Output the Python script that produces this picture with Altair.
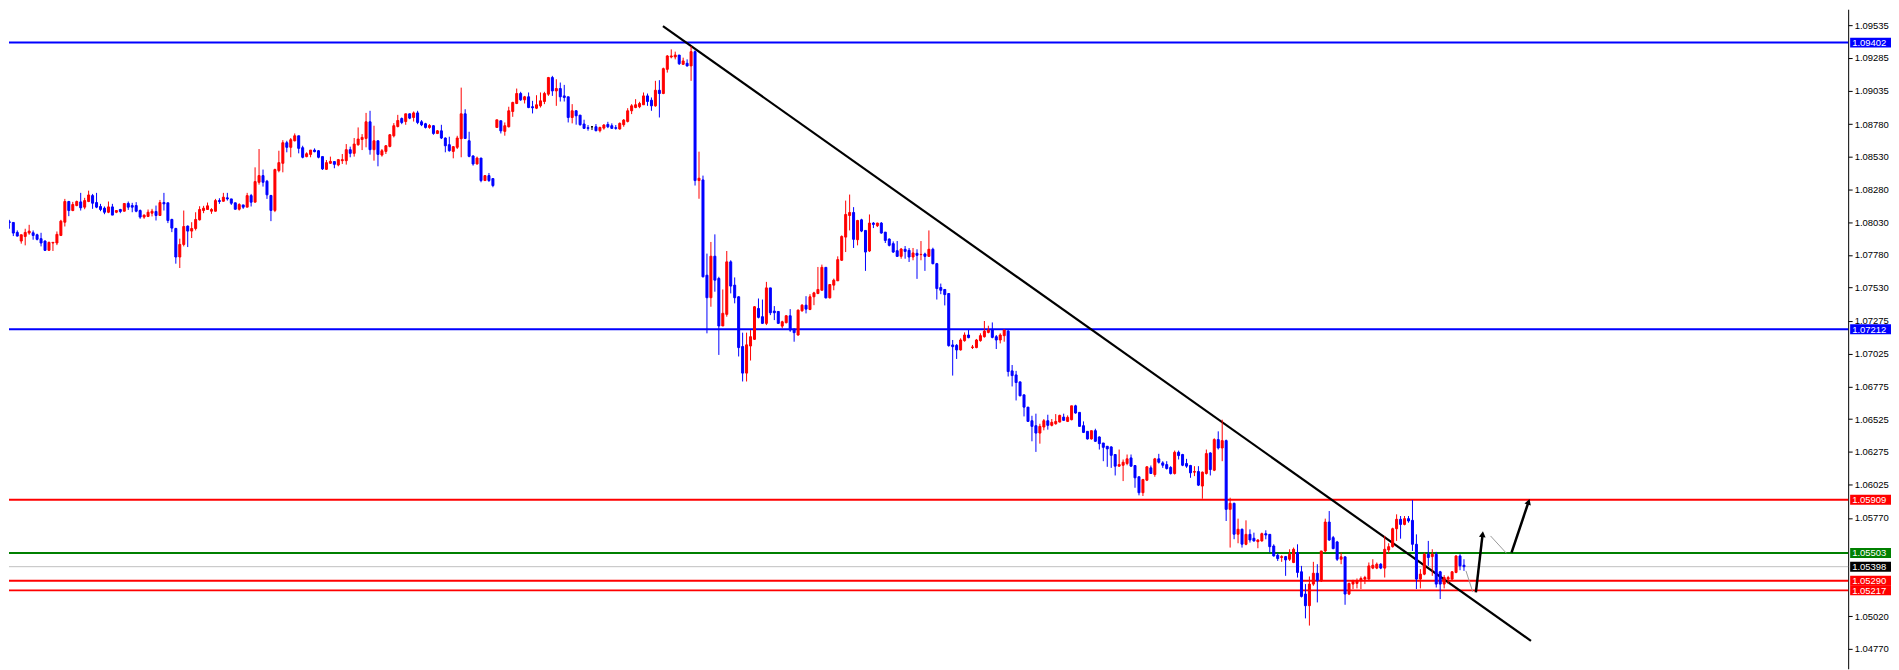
import altair as alt
import pandas as pd

# ---- candle data (prices in points, i.e. price * 100000) ----
OPEN = [
108038,108033,108028,107952,107886,107921,107947,107949,107934,107904,
107886,107815,107871,107871,107929,108030,108188,108119,108157,108185,
108145,108188,108233,108180,108150,108137,108106,108147,108106,108127,
108114,108173,108157,108157,108119,108069,108074,108099,108112,108081,
108180,108178,108051,107982,107764,107860,108000,107962,107982,108048,
108119,108127,108114,108114,108195,108190,108216,108208,108178,108129,
108162,108145,108233,
108183,108335,108386,108343,108234,108120,108424,108480,108637,108602,
108652,108690,108599,108531,108548,108581,108576,108531,108434,108480,
108493,108467,108500,108500,108584,108556,108622,108662,108670,108797,
108584,108652,108543,108571,108609,108690,108761,108822,108799,108858,
108830,108865,108797,108782,108754,108767,108708,108728,108673,108622,
108571,108602,108668,108858,108652,108536,108475,108520,108348,108386,
108363,108754,108805,
108724,108759,108876,108937,109013,108965,108988,108912,108901,108919,
108952,109008,109135,109033,109051,108995,108988,108830,108881,108848,
108780,108752,108759,108759,108729,108749,108777,108767,108752,108742,
108775,108800,108881,108906,108912,108927,108995,108962,108919,109038,
109013,109198,109292,109292,109307,109236,109244,109224,109333,108348,
108353,107625,107453,107770,107600,107237,107326,107727,107549,107460,
107080,106877,
107084,107135,107371,107308,107257,107528,107351,107348,107236,107262,
107315,107211,107168,107353,107396,107363,107460,107485,107510,107685,
107452,107549,107582,107739,107916,108081,108104,107896,108048,107967,
107810,108023,108003,108023,107954,107901,107866,107812,107769,107823,
107815,107764,107792,107782,107787,107769,107823,107713,107531,107516,
107485,107092,107089,107054,107125,107168,107072,107072,107125,107155,
107188,107206,107155,
107130,107163,107198,106894,106863,106810,106711,106617,106513,106475,
106419,106465,106513,106478,106490,106503,106541,106508,106521,106627,
106577,106475,106432,106374,106437,106389,106343,106318,106313,106255,
106166,106173,106186,106229,106171,106085,105963,106059,106153,106102,
106222,106191,106178,106156,106110,106272,106255,106186,106171,106120,
106125,106014,106110,106267,106135,106369,106305,106361,105836,105882,
105646,105684,
105569,105645,105615,105589,105595,105650,105645,105556,105485,105468,
105475,105455,105430,105506,105359,105189,105100,105265,105348,105290,
105518,105739,105620,105587,105455,105473,105189,105265,105270,105290,
105303,105303,105387,105387,105417,105387,105526,105551,105688,105760,
105721,105765,105752,105569,105303,105341,105493,105475,105493,105359,
105265,105303,105303,105354,105480,105409,
]
HIGH = [
108048,108048,108028,107967,107934,107980,108010,107967,107942,107949,
107891,107881,107876,107959,108048,108208,108193,108185,108195,108254,
108216,108271,108246,108254,108170,108150,108188,108170,108119,108132,
108173,108188,108178,108183,108127,108089,108127,108132,108157,108200,
108254,108178,108056,107987,107904,108119,108005,108030,108106,108152,
108155,108180,108137,108208,108213,108254,108254,108208,108178,108175,
108162,108254,108246,
108449,108589,108432,108353,108239,108439,108576,108657,108652,108673,
108708,108690,108614,108564,108581,108594,108581,108531,108505,108531,
108493,108513,108551,108627,108607,108673,108754,108703,108865,108881,
108767,108652,108589,108619,108703,108787,108850,108830,108858,108860,
108876,108881,108810,108789,108779,108772,108734,108774,108678,108683,
108612,108690,109058,108893,108721,108541,108531,108520,108386,108406,
108363,108812,108805,
108792,108912,108950,109051,109026,108995,109021,108957,109000,109021,
109026,109140,109148,109122,109097,109079,108988,108932,108886,108848,
108813,108772,108759,108780,108759,108780,108797,108785,108772,108792,
108818,108901,108932,108970,108950,109021,109013,108983,109110,109115,
109211,109307,109350,109333,109307,109287,109274,109376,109343,108569,
108386,107790,107879,107937,107613,107516,107810,107739,107608,107465,
107186,107186,
107206,107389,107447,107439,107574,107528,107389,107348,107277,107320,
107366,107219,107363,107404,107465,107480,107498,107688,107706,107685,
107556,107599,107769,107929,108195,108241,108145,108048,108056,107967,
108089,108031,108026,108031,107954,107906,107883,107886,107833,107848,
107833,107833,107823,107886,107797,107967,107835,107719,107561,107516,
107485,107130,107099,107143,107188,107206,107092,107138,107181,107275,
107239,107264,107168,
107181,107211,107211,106939,106894,106810,106711,106617,106551,106567,
106490,106526,106559,106526,106564,106559,106567,106554,106627,106635,
106577,106508,106432,106437,106452,106394,106343,106318,106318,106255,
106293,106217,106255,106255,106171,106085,106069,106166,106171,106229,
106260,106204,106204,106166,106285,106285,106260,106222,106176,106166,
106166,106125,106293,106272,106379,106432,106521,106369,105925,105887,
105765,105689,
105752,105683,105658,105607,105658,105676,105645,105569,105501,105485,
105480,105531,105544,105569,105404,105265,105323,105435,105417,105518,
105765,105823,105633,105595,105506,105475,105277,105298,105308,105323,
105328,105430,105455,105430,105425,105633,105577,105696,105798,105785,
105785,105785,105907,105645,105379,105506,105595,105531,105511,105366,
105333,105328,105364,105485,105493,105455,
]
LOW = [
108018,107980,107924,107921,107866,107853,107934,107896,107891,107845,
107810,107815,107810,107855,107924,107997,108076,108114,108152,108119,
108129,108183,108132,108137,108114,108091,108099,108084,108099,108099,
108112,108124,108106,108106,108056,108056,108069,108074,108043,108081,
108119,108023,107954,107713,107680,107845,107840,107909,107967,108043,
108099,108124,108094,108112,108170,108188,108195,108162,108127,108119,
108132,108145,108150,
108183,108317,108302,108208,108038,108107,108411,108411,108564,108526,
108647,108556,108518,108526,108526,108564,108518,108429,108429,108475,
108442,108457,108475,108470,108526,108531,108614,108581,108602,108546,
108500,108457,108531,108551,108602,108678,108754,108779,108774,108817,
108799,108779,108764,108746,108744,108698,108703,108665,108564,108569,
108518,108589,108526,108665,108526,108462,108470,108335,108348,108338,
108297,108754,108708,
108691,108754,108835,108932,108957,108937,108901,108861,108894,108906,
108932,108995,108995,108919,108952,108952,108792,108785,108775,108767,
108742,108729,108734,108724,108716,108737,108749,108742,108737,108737,
108759,108792,108856,108901,108901,108927,108919,108881,108912,108830,
109008,109173,109282,109274,109231,109231,109219,109110,108310,108209,
107608,107181,107384,107499,107016,107237,107308,107486,107410,107004,
106813,106813,
106973,107130,107295,107252,107244,107320,107282,107252,107219,107257,
107193,107117,107163,107346,107333,107358,107396,107480,107510,107447,
107447,107510,107582,107734,107802,107967,107833,107853,107954,107658,
107802,107985,107993,107942,107871,107845,107795,107764,107751,107751,
107726,107739,107597,107739,107658,107764,107708,107439,107480,107394,
107079,106858,106985,107049,107117,107143,107061,107067,107117,107148,
107181,107143,107061,
107104,107117,106851,106775,106668,106699,106546,106508,106356,106275,
106338,106440,106445,106470,106483,106501,106516,106503,106516,106567,
106470,106419,106369,106369,106351,106293,106204,106161,106153,106095,
106161,106052,106173,106161,106001,105943,105938,106052,106110,106085,
106186,106153,106140,106102,106102,106217,106166,106153,106077,106090,
106014,105917,106102,106095,106128,106293,106204,105747,105544,105608,
105577,105544,
105562,105582,105589,105539,105589,105607,105506,105475,105442,105435,
105328,105442,105425,105315,105163,105003,104948,105252,105125,105282,
105506,105595,105531,105442,105417,105107,105181,105227,105232,105227,
105265,105298,105379,105379,105379,105315,105501,105544,105595,105612,
105714,105734,105518,105227,105232,105333,105404,105328,105239,105151,
105232,105265,105290,105348,105371,105366,
]
CLOSE = [
108030,108028,107947,107924,107934,107952,107962,107929,107899,107871,
107815,107876,107876,107937,108038,108188,108119,108165,108188,108140,
108195,108238,108175,108145,108127,108106,108147,108084,108119,108112,
108173,108145,108145,108114,108069,108084,108106,108114,108081,108180,
108170,108043,107985,107764,107860,107997,107962,107982,108051,108127,
108137,108155,108127,108195,108188,108221,108208,108175,108129,108165,
108145,108233,108183,
108340,108386,108335,108239,108120,108432,108485,108637,108602,108660,
108690,108594,108526,108553,108581,108569,108526,108437,108485,108495,
108472,108508,108508,108584,108556,108627,108665,108678,108797,108584,
108652,108548,108576,108614,108698,108767,108807,108792,108858,108825,
108865,108792,108774,108754,108769,108708,108728,108673,108614,108576,
108607,108673,108858,108670,108533,108475,108520,108348,108386,108348,
108310,108812,108728,
108767,108881,108945,109013,108965,108988,108906,108904,108927,108957,
109013,109135,109033,109051,108988,108983,108830,108881,108843,108775,
108747,108747,108759,108729,108754,108772,108759,108747,108747,108785,
108810,108881,108919,108927,108937,108995,108952,108919,109038,109013,
109203,109300,109300,109307,109241,109262,109224,109333,108348,108366,
107613,107453,107770,107587,107237,107334,107727,107542,107453,107072,
106877,107093,
107155,107384,107303,107257,107528,107338,107338,107257,107269,107315,
107206,107186,107358,107396,107366,107460,107490,107516,107685,107452,
107554,107587,107744,107921,108089,108104,107899,108043,107962,107802,
108023,108013,108023,107947,107891,107853,107802,107769,107825,107807,
107764,107795,107777,107784,107769,107823,107713,107523,107510,107477,
107087,107079,107054,107130,107168,107148,107077,107130,107163,107198,
107206,107150,107130,
107168,107206,106889,106858,106805,106704,106617,106508,106470,106419,
106470,106513,106478,106501,106508,106554,106516,106539,106627,106572,
106470,106424,106374,106437,106356,106338,106310,106298,106249,106166,
106178,106196,106222,106166,106077,105963,106064,106161,106110,106222,
106196,106173,106148,106110,106272,106247,106173,106166,106115,106125,
106021,106120,106262,106140,106369,106305,106361,105836,105882,105646,
105684,105570,
105645,105602,105595,105602,105650,105640,105551,105480,105460,105475,
105450,105493,105531,105354,105171,105100,105265,105348,105290,105518,
105739,105602,105536,105455,105473,105189,105270,105290,105290,105308,
105315,105404,105409,105417,105387,105531,105551,105688,105760,105721,
105765,105747,105569,105303,105341,105493,105468,105493,105265,105265,
105315,105315,105359,105480,105404,105398,
]

# ---- right price scale ticks ----
TICKS = [1.09535, 1.09285, 1.09035, 1.08780, 1.08530, 1.08280, 1.08030,
         1.07780, 1.07530, 1.07275, 1.07025, 1.06775, 1.06525, 1.06275,
         1.06025, 1.05770, 1.05020, 1.04770]

# ---- horizontal levels ----
LEVEL_PRICES = [1.09402, 1.07212, 1.05909, 1.05503, 1.05398, 1.05290, 1.05217]
LEVEL_COLORS = ["#0000FF", "#0000FF", "#FF0000", "#008000", "#C0C0C0", "#FF0000", "#FF0000"]
LABEL_BG = ["#0000FF", "#0000FF", "#FF0000", "#008000", "#000000", "#FF0000", "#FF0000"]
LEVEL_WIDTHS = [2, 2, 2, 2, 1, 2, 2]

# ---- drawn trend line (bar index, price) ----
TREND_X = [165.9, 384.9]
TREND_Y = [1.09528, 1.04831]

# ---- projection arrows (bar index, price) ----
PATH_SEG = ["a", "a", "b", "b", "c", "c", "d", "d"]
PATH_X = [368.5, 370.2, 371.0, 372.7, 374.7, 378.7, 380.0, 384.3]
PATH_Y = [1.05366, 1.05206, 1.05202, 1.05646, 1.05633, 1.05501, 1.05506, 1.05894]
PATH_KIND = ["thin", "thin", "thick", "thick", "thin", "thin", "thick", "thick"]
HEAD_X = [372.7, 384.3]
HEAD_Y = [1.05646, 1.05894]
HEAD_ANGLE = [7, 19]

n = min(len(OPEN), len(HIGH), len(LOW), len(CLOSE))
rows = []
for i in range(n):
    o, h, l, c = OPEN[i] / 1e5, HIGH[i] / 1e5, LOW[i] / 1e5, CLOSE[i] / 1e5
    d = "up" if c > o else ("down" if c < o else "flat")
    rows.append(dict(i=i, o=o, h=h, l=l, c=c, d=d))
candles = pd.DataFrame(rows)

levels = pd.DataFrame(dict(
    p=LEVEL_PRICES, col=LEVEL_COLORS, bg=LABEL_BG, w=LEVEL_WIDTHS,
    t=["%.5f" % v for v in LEVEL_PRICES]))
trend = pd.DataFrame(dict(x=TREND_X, y=TREND_Y))
paths = pd.DataFrame(dict(seg=PATH_SEG, x=PATH_X, y=PATH_Y, kind=PATH_KIND))
heads = pd.DataFrame(dict(x=HEAD_X, y=HEAD_Y, a=HEAD_ANGLE))

W, H = 1846, 662
XDOM = [2.1675, 463.67]
YDOM = [1.04618, 1.096571]
FONT = "Liberation Sans"

xs = alt.Scale(domain=XDOM, nice=False, zero=False)
ys = alt.Scale(domain=YDOM, nice=False, zero=False)
AX = alt.Axis(orient="right", values=TICKS, format=".5f", title=None, grid=False,
              domain=True, domainColor="#000000", domainWidth=1,
              ticks=True, tickColor="#000000", tickSize=4, tickWidth=1,
              labelFont=FONT, labelFontSize=9.5, labelColor="#000000",
              labelPadding=2, labelBaseline="middle", labelOverlap=False,
              labelFlush=False)


def Y(field):
    return alt.Y(field, type="quantitative", scale=ys, axis=AX)


def X(field):
    return alt.X(field, type="quantitative", scale=xs, axis=None)


cscale = alt.Scale(domain=["up", "down", "flat"], range=["#FF0000", "#0000FF", "#000000"])

wicks = alt.Chart(candles).mark_rule(strokeWidth=1, clip=True).encode(
    x=X("i"), y=Y("l"), y2="h:Q",
    color=alt.Color("d:N", scale=cscale, legend=None))

bodies = alt.Chart(candles).mark_bar(width=2, strokeWidth=1, clip=True).encode(
    x=X("i"), y=Y("o"), y2="c:Q",
    color=alt.Color("d:N", scale=cscale, legend=None),
    stroke=alt.Stroke("d:N", scale=cscale, legend=None))

level_lines = alt.Chart(levels).mark_rule().encode(
    y=Y("p"),
    color=alt.Color("col:N", scale=None),
    strokeWidth=alt.StrokeWidth("w:Q", scale=None))

trend_line = alt.Chart(trend).mark_line(color="#000000", strokeWidth=2.2, clip=True).encode(
    x=X("x"), y=Y("y"))

thin = alt.Chart(paths).transform_filter(alt.datum.kind == "thin").mark_line(
    color="#9a9a9a", strokeWidth=1).encode(x=X("x"), y=Y("y"), detail="seg:N")
thick = alt.Chart(paths).transform_filter(alt.datum.kind == "thick").mark_line(
    color="#000000", strokeWidth=2.5).encode(x=X("x"), y=Y("y"), detail="seg:N")
arrow_heads = alt.Chart(heads).mark_point(shape="triangle-up", filled=True, size=45,
                                          color="#000000", opacity=1).encode(
    x=X("x"), y=Y("y"), angle=alt.Angle("a:Q", scale=None))

label_boxes = alt.Chart(levels).mark_rect(yOffset=-5, y2Offset=5).encode(
    x=alt.value(W + 2), x2=alt.value(W + 43),
    y=Y("p"), y2="p:Q",
    color=alt.Color("bg:N", scale=None))

label_text = alt.Chart(levels).mark_text(align="left", baseline="middle", font=FONT,
                                         fontSize=9.5, color="#FFFFFF", dy=0.5).encode(
    x=alt.value(W + 4), y=Y("p"), text="t:N")

chart = alt.layer(
    level_lines, trend_line, wicks, bodies, thin, thick, arrow_heads,
    label_boxes, label_text
).properties(
    width=W, height=H,
    padding={"left": 0, "top": 0, "right": 0, "bottom": 0},
    background="#FFFFFF"
).configure_view(strokeWidth=0)

chart.save("out.html", embed_options={"renderer": "svg", "actions": False})
